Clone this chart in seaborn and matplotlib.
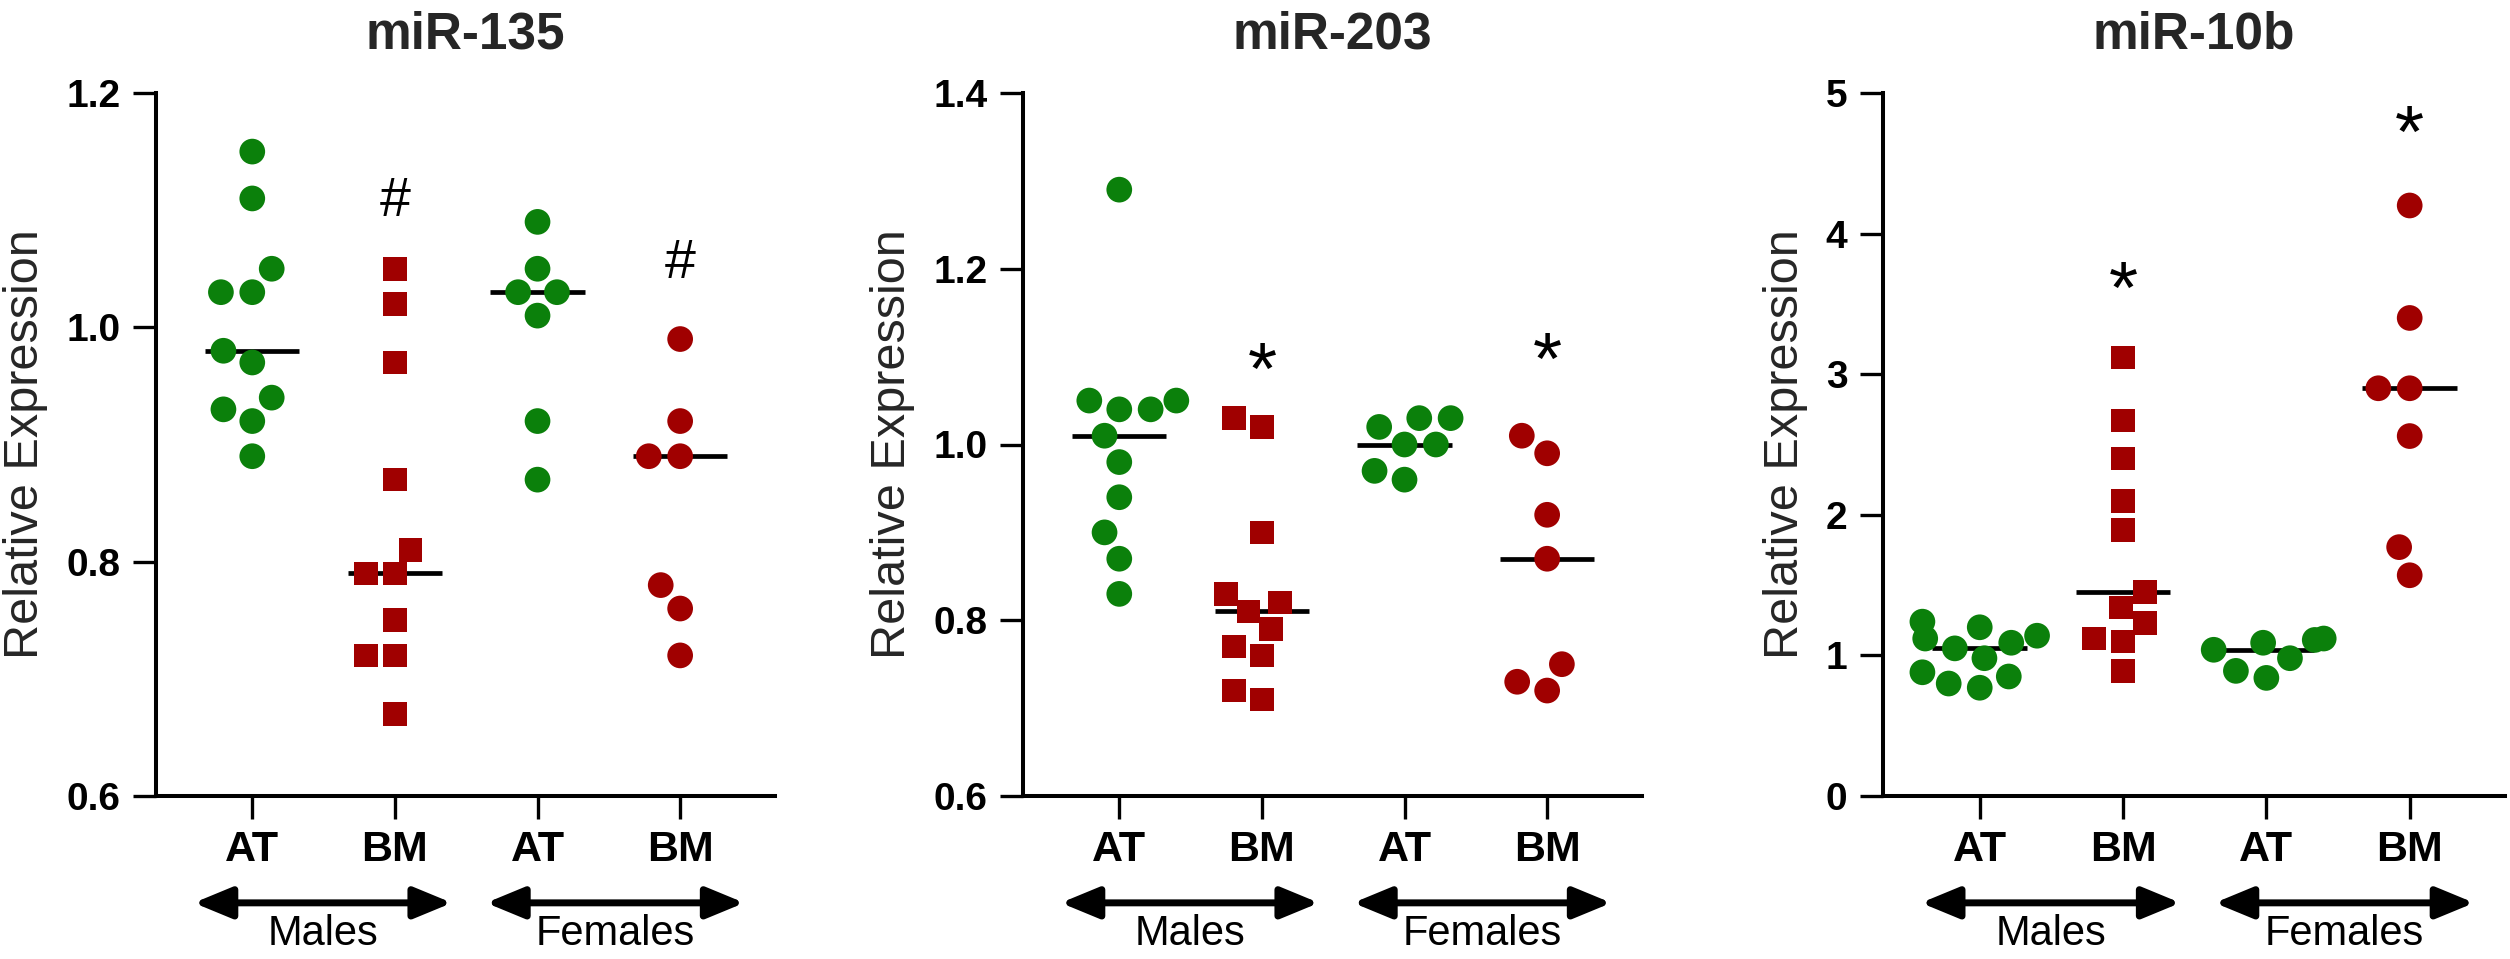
import numpy as np
import pandas as pd
import seaborn as sns
import matplotlib.pyplot as plt
from matplotlib.ticker import FormatStrFormatter

sns.set_style("ticks")
plt.rcParams['font.family'] = ['Liberation Sans', 'DejaVu Sans']

# ---------------- data ----------------
groups = ["Males AT", "Males BM", "Females AT", "Females BM"]
tick_labels = ["AT", "BM", "AT", "BM"]
sex_labels = ["Males", "Females"]
titles = ["miR-135", "miR-203", "miR-10b"]

mir135_males_at = [1.15, 1.11, 1.05, 1.03, 1.03, 0.98, 0.97, 0.94, 0.93, 0.92, 0.89]
mir135_males_bm = [1.05, 1.02, 0.97, 0.87, 0.81, 0.79, 0.79, 0.75, 0.72, 0.72, 0.67]
mir135_females_at = [1.09, 1.05, 1.03, 1.03, 1.01, 0.92, 0.87]
mir135_females_bm = [0.99, 0.92, 0.89, 0.89, 0.78, 0.76, 0.72]

mir203_males_at = [1.29, 1.05, 1.05, 1.04, 1.04, 1.01, 0.98, 0.94, 0.90, 0.87, 0.83]
mir203_males_bm = [1.03, 1.02, 0.90, 0.83, 0.82, 0.81, 0.79, 0.77, 0.76, 0.72, 0.71]
mir203_females_at = [1.03, 1.03, 1.02, 1.00, 1.00, 0.97, 0.96]
mir203_females_bm = [1.01, 0.99, 0.92, 0.87, 0.75, 0.73, 0.72]

mir10b_males_at = [1.24, 1.20, 1.14, 1.12, 1.09, 1.05, 0.98, 0.88, 0.85, 0.80, 0.77]
mir10b_males_bm = [3.12, 2.67, 2.40, 2.10, 1.89, 1.45, 1.34, 1.23, 1.12, 1.10, 0.89]
mir10b_females_at = [1.12, 1.11, 1.09, 1.04, 0.98, 0.89, 0.84]
mir10b_females_bm = [4.20, 3.40, 2.90, 2.90, 2.56, 1.77, 1.57]

y_limits = [(0.6, 1.2), (0.6, 1.4), (0.0, 5.0)]
y_ticks = [[0.6, 0.8, 1.0, 1.2], [0.6, 0.8, 1.0, 1.2, 1.4], [0, 1, 2, 3, 4, 5]]
y_formats = ['%.1f', '%.1f', '%d']

sig_symbols = ["#", "*", "*"]
sig_groups = ["Males BM", "Females BM"]
sig_y_135 = [1.112, 1.059]
sig_y_203 = [1.105, 1.116]
sig_y_10b = [3.73, 4.845]

panels = [
    [mir135_males_at, mir135_males_bm, mir135_females_at, mir135_females_bm],
    [mir203_males_at, mir203_males_bm, mir203_females_at, mir203_females_bm],
    [mir10b_males_at, mir10b_males_bm, mir10b_females_at, mir10b_females_bm],
]
sig_values = [sig_y_135, sig_y_203, sig_y_10b]

# ---------------- style ----------------
GREEN = '#0b800b'
RED = '#a00000'
palette = {"Males AT": GREEN, "Males BM": RED, "Females AT": GREEN, "Females BM": RED}

fig = plt.figure(figsize=(25.1, 9.59), dpi=100)
W, H = 2510.0, 959.0
ax_bottom = (H - 796) / H
ax_height = 703 / H
ax_lefts = [156 / W, 1023 / W, 1883 / W]
ax_widths = [619 / W, 619 / W, 622 / W]
arrow_spans = [(-0.41, 1.40), (1.64, 3.45)]

for i in range(3):
    ax = fig.add_axes([ax_lefts[i], ax_bottom, ax_widths[i], ax_height])
    vals = panels[i]
    df = pd.DataFrame({
        'group': np.concatenate([[g] * len(v) for g, v in zip(groups, vals)]),
        'value': np.concatenate(vals),
    })

    # median lines
    sns.boxplot(data=df, x='group', y='value', order=groups, width=0.66,
                showbox=False, showcaps=False, showfliers=False,
                whiskerprops={'visible': False},
                medianprops={'color': 'black', 'linewidth': 3.4, 'zorder': 1,
                             'solid_capstyle': 'butt'},
                ax=ax)

    circ = df[df.group != "Males BM"]
    sq = df[df.group == "Males BM"]
    # invisible edge widens the swarm spacing a little, as in the original
    sns.swarmplot(data=circ, x='group', y='value', order=groups, hue='group',
                  palette=palette, marker='o', size=18.5, linewidth=3,
                  edgecolor='none', legend=False, ax=ax, zorder=3)
    sns.swarmplot(data=sq, x='group', y='value', order=groups, hue='group',
                  palette=palette, marker='s', size=17, linewidth=3,
                  edgecolor='none', legend=False, ax=ax, zorder=3)

    ax.set_xlim(-0.675, 3.665)
    ax.set_ylim(*y_limits[i])
    ax.set_yticks(y_ticks[i])
    ax.yaxis.set_major_formatter(FormatStrFormatter(y_formats[i]))
    ax.set_xticks(range(4))
    ax.set_xticklabels(tick_labels)

    for side in ['top', 'right']:
        ax.spines[side].set_visible(False)
    for side in ['left', 'bottom']:
        ax.spines[side].set_linewidth(2.9)
        ax.spines[side].set_color('black')

    ax.tick_params(axis='both', length=16.5, width=2.4, direction='out', colors='black')
    ax.tick_params(axis='x', pad=8, labelsize=31)
    ax.tick_params(axis='y', pad=9, labelsize=28)
    for lab in ax.get_xticklabels() + ax.get_yticklabels():
        lab.set_fontweight('bold')

    ax.set_xlabel('')
    ax.set_ylabel('Relative Expression', fontsize=35, labelpad=13)
    ax.set_title(titles[i], fontsize=37, fontweight='bold', pad=31.7)

    # significance symbols
    sym = sig_symbols[i]
    fs = 40 if sym == '#' else 54
    off = 0.35 if sym == '#' else 0.556
    for g, yv in zip(sig_groups, sig_values[i]):
        ax.annotate(sym, xy=(groups.index(g), yv), xytext=(0, -off * fs),
                    textcoords='offset points', ha='center', va='baseline',
                    fontsize=fs, color='black', annotation_clip=False)

    # sex arrows and labels
    trans = ax.get_xaxis_transform()
    for (x0, x1), lab in zip(arrow_spans, sex_labels):
        ax.annotate('', xy=(x1, -0.152), xytext=(x0, -0.152),
                    xycoords=trans, textcoords=trans,
                    arrowprops=dict(arrowstyle='<|-|>,head_length=2.3,head_width=0.95',
                                    lw=5, color='black', mutation_scale=10,
                                    shrinkA=0, shrinkB=0),
                    annotation_clip=False)
        ax.text((x0 + x1) / 2, -0.212, lab, transform=trans, ha='center',
                va='baseline', fontsize=30, color='black')

fig.savefig('out.png', dpi=100, facecolor='white')
